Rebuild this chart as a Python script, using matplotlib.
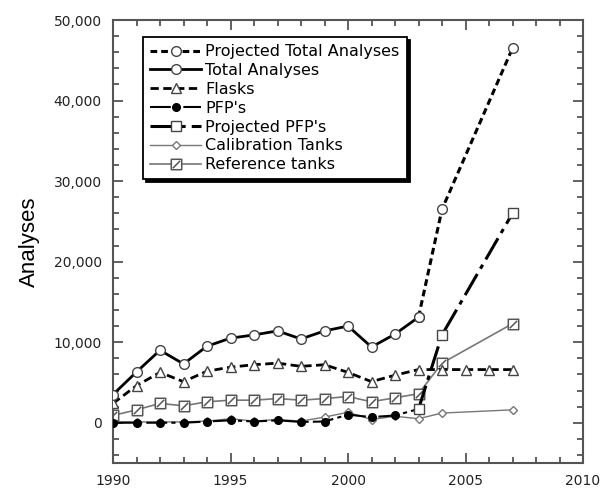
import numpy as np
import matplotlib.pyplot as plt
from matplotlib.path import Path
from matplotlib.ticker import MultipleLocator, FuncFormatter

# Analyses per year (values in thousands)
years_hist = [1990, 1991, 1992, 1993, 1994, 1995, 1996, 1997, 1998, 1999,
              2000, 2001, 2002, 2003]
total = [3.5, 6.3, 9.0, 7.3, 9.5, 10.5, 10.9, 11.4, 10.4, 11.4, 12.0, 9.4, 11.0, 13.1]
pfps = [0.0, 0.0, 0.0, 0.0, 0.15, 0.3, 0.15, 0.3, 0.1, 0.15, 1.0, 0.7, 0.9, 1.7]

years_proj = [2003, 2004, 2007]
proj_total = [13.1, 26.5, 46.5]
proj_pfps = [1.7, 10.9, 26.0]

years_flask = list(range(1990, 2008))
flasks = [2.4, 4.6, 6.25, 5.1, 6.4, 6.9, 7.2, 7.4, 7.0, 7.2, 6.25, 5.1, 5.9,
          6.6, 6.6, 6.6, 6.6, 6.6]

years_tanks = [1990, 1991, 1992, 1993, 1994, 1995, 1996, 1997, 1998, 1999,
               2000, 2001, 2002, 2003, 2004, 2007]
calibration = [0.1, 0.1, 0.1, 0.1, 0.2, 0.5, 0.2, 0.4, 0.2, 0.7, 1.3, 0.4, 0.8,
               0.5, 1.2, 1.6]
reference = [0.9, 1.6, 2.4, 2.1, 2.6, 2.8, 2.8, 3.0, 2.8, 3.0, 3.25, 2.6, 3.1,
             3.6, 7.4, 12.3]

def k(vals):
    return np.array(vals) * 1000

# square with a diagonal stroke for the reference tanks
sq_slash = Path([(-1, -1), (1, -1), (1, 1), (-1, 1), (-1, -1), (-0.7, -0.7), (0.7, 0.7)],
                [Path.MOVETO, Path.LINETO, Path.LINETO, Path.LINETO, Path.CLOSEPOLY,
                 Path.MOVETO, Path.LINETO])

fig = plt.figure(figsize=(6.03, 4.90), dpi=100)
ax = fig.add_axes([113/603, 1 - 463/490, 470/603, 443/490])

gray = '#777777'
ax.plot(years_tanks, k(calibration), color=gray, lw=1, marker='D', ms=4,
        mfc='white', mec=gray, label='Calibration Tanks', zorder=2)
ax.plot(years_tanks, k(reference), color=gray, lw=1.2, marker=sq_slash, ms=7.5,
        mfc='white', mec='#555555', mew=1.1, label='Reference tanks', zorder=2)
ax.plot(years_hist, k(pfps), color='black', lw=1.5, ls=(0, (10, 2, 2, 2)),
        marker='o', ms=5.5, mfc='black', mec='black', label="PFP's", zorder=3)
ax.plot(years_proj, k(proj_pfps), color='black', lw=2.2, ls=(0, (8, 2, 1.5, 2)),
        marker='s', ms=7, mfc='white', mec='#444444', label="Projected PFP's", zorder=3)
ax.plot(years_flask, k(flasks), color='black', lw=2, ls=(0, (3, 1.6)),
        marker='^', ms=7, mfc='white', mec='#444444', label='Flasks', zorder=4)
ax.plot(years_proj, k(proj_total), color='black', lw=2.2, ls=(0, (2.2, 1.3)),
        marker='o', ms=7, mfc='white', mec='#444444', label='Projected Total Analyses', zorder=4)
ax.plot(years_hist, k(total), color='black', lw=2, marker='o', ms=7,
        mfc='white', mec='#444444', label='Total Analyses', zorder=5)

ax.set_xlim(1990, 2010)
ax.set_ylim(-5000, 50000)
ax.xaxis.set_major_locator(MultipleLocator(5))
ax.xaxis.set_minor_locator(MultipleLocator(1))
ax.yaxis.set_major_locator(MultipleLocator(10000))
ax.yaxis.set_minor_locator(MultipleLocator(2000))
ax.yaxis.set_major_formatter(FuncFormatter(lambda v, p: f'{int(v):,}'))
ax.tick_params(which='both', direction='in', top=True, right=True,
               color='#555555', width=1.3, labelsize=10, labelcolor='#222222')
ax.tick_params(which='major', length=7, pad=8)
ax.tick_params(which='minor', length=4)
for s in ax.spines.values():
    s.set_color('#555555')
    s.set_linewidth(1.5)

ax.set_ylabel('Analyses', family='Liberation Sans', fontsize=16)
ax.yaxis.set_label_coords(-0.155, 0.5)

order = ['Projected Total Analyses', 'Total Analyses', 'Flasks', "PFP's",
         "Projected PFP's", 'Calibration Tanks', 'Reference tanks']
handles, labels = ax.get_legend_handles_labels()
lookup = dict(zip(labels, handles))
leg = ax.legend([lookup[l] for l in order], order, loc='upper left',
                bbox_to_anchor=(143/603, 1 - 37/490), bbox_transform=fig.transFigure,
                borderaxespad=0, fontsize=11.5, labelspacing=0.24, handlelength=3.2,
                handletextpad=0.25, borderpad=0.45, fancybox=False, framealpha=1,
                edgecolor='black', shadow={'color': 'black', 'alpha': 1})
leg.get_frame().set_linewidth(1.3)

fig.savefig('out.png', dpi=100)
